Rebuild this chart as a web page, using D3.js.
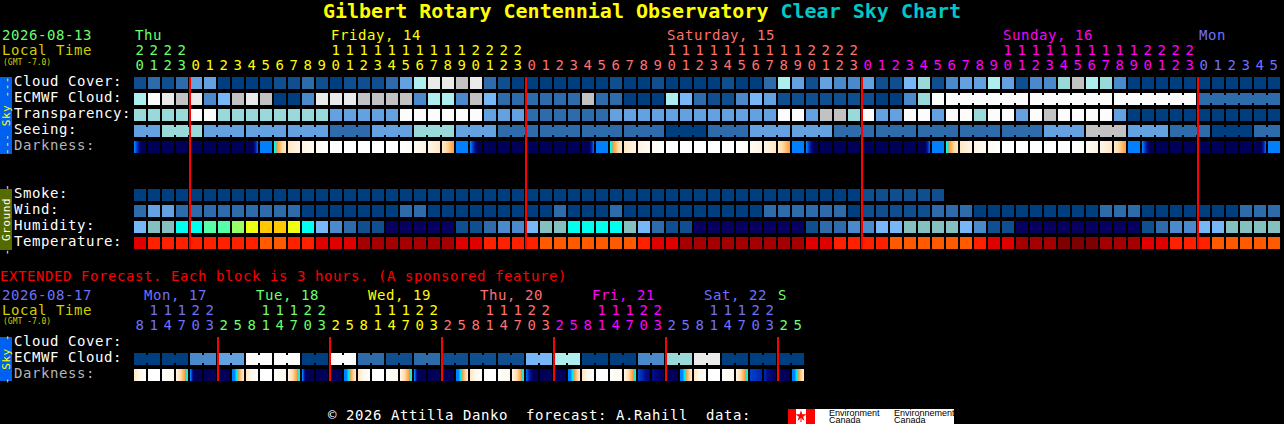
<!DOCTYPE html>
<html>
<head>
<meta charset="utf-8">
<script src="https://cdn.jsdelivr.net/npm/d3@7"></script>
<style>
  html, body { margin: 0; padding: 0; background: #000; overflow: hidden; }
  text { font-family: "DejaVu Sans Mono", monospace; font-size: 14px; letter-spacing: .57px; white-space: pre; }
</style>
</head>
<body>
<div id="chart"></div>
<script>
// 48 hour forecast, one block per hour
const hours = [20,21,22,23,
  0,1,2,3,4,5,6,7,8,9,10,11,12,13,14,15,16,17,18,19,20,21,22,23,
  0,1,2,3,4,5,6,7,8,9,10,11,12,13,14,15,16,17,18,19,20,21,22,23,
  0,1,2,3,4,5,6,7,8,9,10,11,12,13,14,15,16,17,18,19,20,21,22,23,
  0,1,2,3,4,5];
const midnights = [4, 28, 52, 76];
const dayLabels = ["Thu", "Friday, 14", "Saturday, 15", "Sunday, 16", "Mon"];
const dayStarts = [0, 14, 38, 62, 76];
const dayColors = ["#6cff6c", "#ffff00", "#ff7070", "#ff00ff", "#7070ff"];

// levels of the sky palette, 0 = dark blue ... 10 = white
const cloudCover = [1,2,1,2,4,4,0,0,0,0,1,1,2,1,0,1,1,1,2,4,7,9,9,8,8.5,2,1,0,0,0,0,0,0,0,1,0,0,1,0,0,0,0,1,0,0,2,7,4,1,4,3,3,
  4,1,1,5,6,1,3,4,4,7,4,1,3,3,6,8,7,6,3,0,0,0,0,0,0,0,0,0,0,0];
const ecmwfCloud = [7,10,9,8,9,3,5,8,9,8,0,0,3,9,9,9,8,8,8,8,3,7,7,3,8,5,2,2,2,2,2,2,8,2,2,0,0,0,7,5,2,1,1,3,5,4,1,1,1,1,1,1,
  1,0,0,3,6,10,10,10,10,10,10,10,10,10,10,10,10,10,10,10,10,10,10,10,2,2,2,2,2,2];
const transparency = [6,6,6,6,10,10,6,6,6,6,6,6,6,6,4,4,4,4,4,10,10,10,10,10,10,4,4,4,2,2,2,2,2,2,4,4,4,4,4,4,4,4,4,4,4,4,10,10,4,8,8,6,
  10,4,4,10,10,4,10,10,6,10,10,4,10,8,10,10,10,10,4,0,0,0,0,0,0,0,0,0,0,0];
const seeing = [4,4,6,6,6,4,4,4,4,4,4,4,4,4,2,2,2,4,4,4,6,6,6,4,4,4,2,2,2,2,2,2,2,2,2,2,2,2,0,0,0,2,2,2,4,4,4,4,4,4,2,2,
  2,2,2,2,2,2,2,2,2,2,2,2,2,4,4,4,8,8,8,4,4,4,2,2,2,0,0,0,2,2];
const smoke = [0,0,0,0,0,0,0,0,0,0,0,0,0,0,0,0,0,0,0,0,0,0,0,0,0,0,0,0,0,0,0,0,0,0,0,0,0,0,0,0,0,0,0,0,0,0,0,0,0,0,0,0,
  1,1,1,1,1,1];
const wind = [2,4,4,2,2,2,2,2,2,2,2,2,0,0,0,0,0,0,0,2,2,0,0,0,0,0,0,0,0,0,2,0,0,0,2,0,0,0,0,0,0,0,0,0,0,2,2,2,2,2,2,0,
  1,1,1,1,1,2,2,2,0,0,0,0,0,0,0,0,0,2,2,2,0,0,0,0,0,0,0,2,2,2];
const humidity = [4,5,5,6,6,7,7,8,9,10,10,9,6,4,3,2,1,1,0,0,0,0,0,1,1,2,3,3,4,5,5,6,6,6,6,5,4,2,1,1,0,0,0,0,0,0,0,0,1,2,2,3,
  3,4,4,5,5,5,5,4,3,1,1,0,0,0,0,0,0,0,0,0,1,2,3,3,4,4,5,5,5,5];
const temperature = [2,3,3,3,3,3,3,3,3,4,4,3,3,2,2,2,1,1,1,1,1,1,1,2,2,3,3,3,3,4,4,4,4,4,4,4,3,2,2,1,1,1,1,1,1,1,1,1,2,2,3,3,
  3,3,4,4,4,4,4,4,3,2,2,1,1,1,0,0,0,1,1,1,2,2,3,3,3,4,4,4,4,4];
// darkness at the left and right edge of each block, 0 = daylight, 8.5 = full night (higher values reach night sooner)
const darkness = [[5,10],[8.5,8.5],[8.5,8.5],[8.5,8.5],[8.5,8.5],[8.5,8.5],[8.5,8.5],[8.5,8.5],[12,5.5],[5,5],[3.6,1.5],[1.5,1],[1,.5],[.5,0],
  [0,0],[0,0],[0,0],[0,0],[0,0],[0,.3],[.5,1],[1,1.5],[1.5,3],[4.4,5],
  [5,10],[8.5,8.5],[8.5,8.5],[8.5,8.5],[8.5,8.5],[8.5,8.5],[8.5,8.5],[8.5,8.5],[12,5.5],[5,5],[3.6,1.5],[1.5,1],[1,.5],[.5,0],
  [0,0],[0,0],[0,0],[0,0],[0,0],[0,.3],[.5,1],[1,1.5],[1.5,3],[4.4,5],
  [5,10],[8.5,8.5],[8.5,8.5],[8.5,8.5],[8.5,8.5],[8.5,8.5],[8.5,8.5],[8.5,8.5],[12,5.5],[5,5],[3.6,1.5],[1.5,1],[1,.5],[.5,0],
  [0,0],[0,0],[0,0],[0,0],[0,0],[0,.3],[.5,1],[1,1.5],[1.5,3],[4.4,5],
  [5,10],[8.5,8.5],[8.5,8.5],[8.5,8.5],[8.5,8.5],[8.5,8.5],[8.5,8.5],[8.5,8.5],[12,5.5],[5,5]];
// blocks that share a forecast run are joined: first and last column of each run
const seeingRuns = [[0,1],[2,4],[5,7],[8,10],[11,13],[14,16],[17,19],[20,22],[23,25],[26,28],[29,31],[32,34],[35,37],[38,40],[41,43],[44,46],[47,49],[50,52],
  [53,55],[56,58],[59,61],[62,64],[65,67],[68,70],[71,73],[74,76],[77,79],[80,81]];
const ecmwfRuns = [[58,63],[64,69],[70,75],[76,81]];

// extended forecast, one block per 3 hours
const extHours = [8,11,14,17,20,23,2,5,8,11,14,17,20,23,2,5,8,11,14,17,20,23,2,5,8,11,14,17,20,23,2,5,8,11,14,17,20,23,2,5,8,11,14,17,20,23,2,5];
const extMidnights = [6, 14, 22, 30, 38, 46];
const extDayLabels = ["Mon, 17", "Tue, 18", "Wed, 19", "Thu, 20", "Fri, 21", "Sat, 22", "S"];
const extDayStarts = [0, 8, 16, 24, 32, 40];
const extDayColors = ["#7070ff", "#6cff6c", "#ffff00", "#ff7070", "#ff00ff", "#7070ff", "#6cff6c"];
const extEcmwf = [0,0,0,0,3,3,4,4,10,10,10,10,0,0,10,10,2,2,1,1,2,2,1,1,1,1,1,1,5,5,7,7,0,0,0,0,3,3,6,6,9,9,0,0,0,0,0,0];
const extDarkness = [[1.5,0],[0,0],[0,.7],[1,3.7],[5,15],[8.5,8.5],[8.5,8.5],[5,1.5],
  [1.5,0],[0,0],[0,.7],[1,3.7],[5,15],[8.5,8.5],[8.5,8.5],[5,1.5],
  [1.5,0],[0,0],[0,.7],[1,3.7],[5,15],[8.5,8.5],[8.5,8.5],[5,1.5],
  [1.5,0],[0,0],[0,.7],[1,3.7],[5.5,10],[8.5,8.5],[8.5,8.5],[5,1.5],
  [1.5,0],[0,0],[0,.7],[1,3.7],[6,7.5],[7,8.5],[8.5,8.5],[5,1.5],
  [1.5,0],[0,0],[0,.7],[1,3.7],[6,6.5],[6.5,8.5],[8.5,8.5],[5,1.5]];
const extRuns = d3.range(0, 48, 2).map(c => [c, c + 1]);

const width = 1284, height = 424;

const svg = d3.select("#chart").append("svg")
  .attr("width", width)
  .attr("height", height)
  .style("display", "block")
  .style("background", "#000");

// colour scales
const sky = d3.scaleOrdinal().domain(d3.range(11))
  .range(["#003f7f","#0f4f8f","#2d6bab","#4a8aca","#63a1e1","#77b7f7","#99d9d9","#aeeeee","#c2c2c2","#eaeaea","#fcfcfc"]);
const humid = d3.scaleOrdinal().domain(d3.range(11))
  .range(["#08005f","#0f4f8f","#2d6bab","#4a8aca","#77b7f7","#85c0c0","#00ffee","#55ffaa","#99ff66","#eeff11","#ffc800"]);
const temp = d3.scaleOrdinal().domain(d3.range(5))
  .range(["#7f0000","#a50000","#e00000","#ff2000","#ff5a00"]);
const dark = d3.scaleLinear()
  .domain([0, 1, 2, 3, 3.3, 3.6, 4.4, 5, 6, 7, 8, 8.5])
  .range(["#ffffff","#fff4e4","#ffdca8","#ffa040","#66c0a0","#00ffee","#007fff","#007fff","#0040d0","#000f88","#00006a","#000058"])
  .clamp(true);

// layout scales
const x = d3.scaleBand().domain(d3.range(82)).range([134, 1280]).paddingInner(2 / 14);
const xExt = d3.scaleBand().domain(d3.range(48)).range([134, 804]).paddingInner(2 / 14);
const yCloud = d3.scaleBand().domain(["cloud","ecmwf","transparency","seeing","darkness"]).range([77, 153]).paddingInner(.25);
const yGround = d3.scaleBand().domain(["smoke","wind","humidity","temperature"]).range([189, 249]).paddingInner(.25);
const yExt = d3.scaleBand().domain(["cloud","ecmwf","darkness"]).range([337, 381]).paddingInner(.25);

function blocks(g, xs, y, values, color, runs) {
  g.selectAll(null).data(values).join("rect")
    .attr("x", (d, i) => xs(i))
    .attr("y", y)
    .attr("width", xs.bandwidth())
    .attr("height", 12)
    .attr("shape-rendering", "crispEdges")
    .attr("fill", d => color(d));
  // little bridges between the blocks of one run
  const joins = (runs || []).flatMap(r => d3.range(r[0], r[1]));
  g.selectAll(null).data(joins).join("rect")
    .attr("x", c => xs(c) + xs.bandwidth())
    .attr("y", y + 2)
    .attr("width", xs.step() - xs.bandwidth())
    .attr("height", 8)
    .attr("shape-rendering", "crispEdges")
    .attr("fill", c => color(values[c]));
}

function darknessBlocks(g, xs, y, values) {
  const px = values.flatMap((d, c) => d3.range(12).map(p => ({ c, p, v: d[0] + (d[1] - d[0]) * p / 11 })));
  g.selectAll(null).data(px).join("rect")
    .attr("x", d => xs(d.c) + d.p)
    .attr("y", y)
    .attr("width", 1)
    .attr("height", 12)
    .attr("shape-rendering", "crispEdges")
    .attr("fill", d => dark(d.v));
}

function label(x, y, str, color, size, weight) {
  const t = svg.append("text").attr("x", x).attr("y", y).attr("fill", color).text(str);
  if (size) t.style("font-size", size + "px").style("letter-spacing", 0);
  if (weight) t.style("font-weight", weight);
  return t;
}

function sideBar(y0, y1, color, textColor, str) {
  svg.append("rect").attr("x", 0).attr("y", y0).attr("width", 12).attr("height", y1 - y0).attr("fill", color);
  svg.append("text")
    .attr("transform", `translate(9.5, ${(y0 + y1) / 2}) rotate(-90)`)
    .attr("text-anchor", "middle")
    .attr("fill", textColor)
    .style("font-size", "11px")
    .text(str);
}

// title
const title = svg.append("text").attr("x", 642).attr("y", 18).attr("text-anchor", "middle")
  .style("font-size", "20px").style("letter-spacing", 0).style("font-weight", "bold");
title.append("tspan").attr("fill", "#ffff00").text("Gilbert Rotary Centennial Observatory ");
title.append("tspan").attr("fill", "#00c8c8").text("Clear Sky Chart");

//////////
// MAIN HEADER //
//////////
label(2, 40, "2026-08-13", "#6cff6c");
label(2, 55, "Local Time", "#d0d000");
label(3, 65, "(GMT -7.0)", "#d0d000", 8);

const dayIndex = c => c < 4 ? 0 : 1 + Math.floor((c - 4) / 24);
dayLabels.forEach((d, i) => label(x(dayStarts[i]) + 1, 40, d, dayColors[i]));

svg.append("g").selectAll("text").data(hours).join("text")
  .attr("x", (d, i) => x(i) + 6)
  .attr("y", 70)
  .attr("text-anchor", "middle")
  .attr("fill", (d, i) => dayColors[dayIndex(i)])
  .text(d => d % 10);

svg.append("g").selectAll("text").data(hours).join("text")
  .attr("x", (d, i) => x(i) + 6)
  .attr("y", 55)
  .attr("text-anchor", "middle")
  .attr("fill", (d, i) => dayColors[dayIndex(i)])
  .text(d => d >= 10 ? Math.floor(d / 10) : "");

//////////
// MAIN ROWS //
//////////
const rowLabels = [["Cloud Cover:", 86, "#fff"], ["ECMWF Cloud:", 102, "#fff"], ["Transparency:", 118, "#fff"], ["Seeing:", 134, "#fff"], ["Darkness:", 150, "#b4b4b4"],
  ["Smoke:", 198, "#fff"], ["Wind:", 214, "#fff"], ["Humidity:", 230, "#fff"], ["Temperature:", 246, "#fff"]];
rowLabels.forEach(r => label(14, r[1], r[0], r[2]));

sideBar(77, 154, "#0060f0", "#ffff00", "--- Sky ---");
sideBar(189, 250, "#556b00", "#ffffff", "- Ground -");

const rows = svg.append("g");
blocks(rows.append("g"), x, yCloud("cloud"), cloudCover, v => sky(Math.round(v)));
blocks(rows.append("g"), x, yCloud("ecmwf"), ecmwfCloud, sky, ecmwfRuns);
blocks(rows.append("g"), x, yCloud("transparency"), transparency, sky);
blocks(rows.append("g"), x, yCloud("seeing"), seeing, sky, seeingRuns);
darknessBlocks(rows.append("g"), x, yCloud("darkness"), darkness);
blocks(rows.append("g"), x, yGround("smoke"), smoke, sky);
blocks(rows.append("g"), x, yGround("wind"), wind, sky);
blocks(rows.append("g"), x, yGround("humidity"), humidity, humid);
blocks(rows.append("g"), x, yGround("temperature"), temperature, temp);

// red midnight lines
svg.append("g").selectAll("rect").data(midnights).join("rect")
  .attr("x", d => x(d) - 1)
  .attr("y", 77)
  .attr("width", 2)
  .attr("height", 172)
  .attr("fill", "#ff0000");

//////////
// EXTENDED //
//////////
label(0, 281, "EXTENDED Forecast. Each block is 3 hours. (A sponsored feature)", "#ff0000");
label(2, 300, "2026-08-17", "#7070ff");
label(2, 315, "Local Time", "#d0d000");
label(3, 324, "(GMT -7.0)", "#d0d000", 8);

// the last label is only the first letter of Sunday, it follows right after Sat
extDayStarts.forEach((c, i) => label(xExt(c) + 10, 300, extDayLabels[i], extDayColors[i]));
label(xExt(46), 300, extDayLabels[6], extDayColors[6]);

const extDay = c => Math.floor((c + 2) / 8);
svg.append("g").selectAll("text").data(extHours).join("text")
  .attr("x", (d, i) => xExt(i) + 6)
  .attr("y", 330)
  .attr("text-anchor", "middle")
  .attr("fill", (d, i) => extDayColors[extDay(i)])
  .text(d => d % 10);

svg.append("g").selectAll("text").data(extHours).join("text")
  .attr("x", (d, i) => xExt(i) + 6)
  .attr("y", 315)
  .attr("text-anchor", "middle")
  .attr("fill", (d, i) => extDayColors[extDay(i)])
  .text(d => d >= 10 ? Math.floor(d / 10) : "");

[["Cloud Cover:", 346, "#fff"], ["ECMWF Cloud:", 362, "#fff"], ["Darkness:", 378, "#b4b4b4"]]
  .forEach(r => label(14, r[1], r[0], r[2]));

sideBar(337, 381, "#0060f0", "#ffff00", "- Sky -");

const extRows = svg.append("g");
blocks(extRows.append("g"), xExt, yExt("ecmwf"), extEcmwf, sky, extRuns);
darknessBlocks(extRows.append("g"), xExt, yExt("darkness"), extDarkness);

svg.append("g").selectAll("rect").data(extMidnights).join("rect")
  .attr("x", d => xExt(d) - 1)
  .attr("y", 337)
  .attr("width", 2)
  .attr("height", 44)
  .attr("fill", "#ff0000");

//////////
// FOOTER //
//////////
label(328, 420, "\u00a9 2026 Attilla Danko  forecast: A.Rahill  data:", "#fff");

// Environment Canada logo
svg.append("rect").attr("x", 788).attr("y", 409).attr("width", 166).attr("height", 15).attr("fill", "#fff");
svg.append("rect").attr("x", 788).attr("y", 409).attr("width", 8).attr("height", 15).attr("fill", "#f00");
svg.append("rect").attr("x", 806).attr("y", 409).attr("width", 9).attr("height", 15).attr("fill", "#f00");
svg.append("path")
  .attr("d", d3.symbol(d3.symbolStar, 38)())
  .attr("transform", "translate(801, 416)")
  .attr("fill", "#f00");
svg.append("rect").attr("x", 800.5).attr("y", 419).attr("width", 1).attr("height", 3).attr("fill", "#f00");

const logoText = (x, y, str) => svg.append("text").attr("x", x).attr("y", y).attr("fill", "#000")
  .style("font-family", "'Liberation Sans', sans-serif").style("font-size", "9px").style("letter-spacing", 0).text(str);
logoText(829, 415.5, "Environment");
logoText(829, 423, "Canada");
logoText(894, 415.5, "Environnement");
logoText(894, 423, "Canada");
</script>
</body>
</html>
